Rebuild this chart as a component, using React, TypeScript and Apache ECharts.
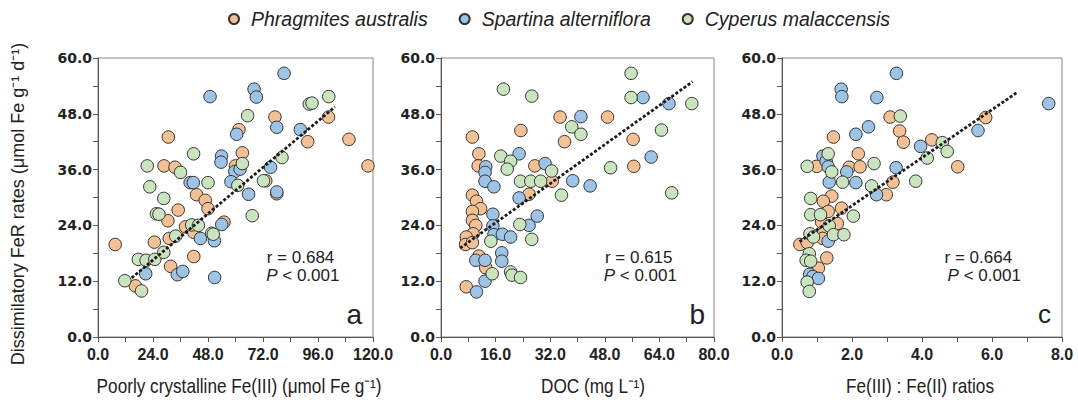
import React, { useEffect, useRef } from "react";
import * as echarts from "echarts";

const speciesNames = ["Phragmites australis", "Spartina alterniflora", "Cyperus malaccensis"];
const speciesColors = ["#F5C093", "#9DC3E6", "#C9E4BE"];
const panelLetters = ["a", "b", "c"];
const rValues = ["r = 0.684", "r = 0.615", "r = 0.664"];
const xTitles = ["Poorly crystalline Fe(III) (μmol Fe g⁻¹)", "DOC (mg L⁻¹)", "Fe(III) : Fe(II) ratios"];
const yTitle = "Dissimilatory FeR rates (μmol Fe g⁻¹ d⁻¹)";
const xMax = [120, 80, 8];
const xInterval = [24, 16, 2];

// Panel a: Poorly crystalline Fe(III)
const phragA = [[7.5,19.9],[30.7,43.0],[28.8,36.8],[33.6,36.5],[35.0,27.3],[30.5,25.0],[24.6,20.4],[31.1,21.2],[31.7,15.2],[16.3,11.0],[43.0,30.6],[46.8,29.4],[48.0,27.6],[38.2,23.7],[41.8,22.5],[41.8,17.3],[55.0,24.7],[60.0,36.8],[61.5,44.6],[63.0,39.6],[73.2,33.6],[77.2,47.3],[78.0,30.8],[91.5,42.0],[100.6,47.3],[109.5,42.5],[117.8,36.8]];
const spartA = [[48.9,51.7],[68.1,53.3],[69.1,51.6],[81.2,56.7],[60.5,43.6],[78.0,45.1],[88.3,44.6],[53.9,38.9],[53.7,37.6],[40.2,33.2],[41.6,33.2],[59.7,35.6],[62.0,36.1],[58.0,33.4],[75.3,36.5],[65.7,30.7],[78.0,31.2],[54.0,24.2],[44.7,21.2],[50.8,20.7],[50.9,12.8],[20.8,13.6],[34.6,13.4],[37.0,14.1]];
const cypA = [[11.7,12.1],[19.0,9.9],[17.6,16.7],[21.0,16.5],[24.8,16.7],[28.7,18.2],[21.5,36.8],[22.6,32.3],[28.7,29.8],[25.5,26.5],[26.6,26.4],[33.9,21.7],[36.0,35.4],[41.7,39.4],[40.9,24.1],[43.8,24.0],[48.0,33.2],[49.6,22.3],[50.3,22.1],[61.0,32.6],[63.0,37.3],[65.3,47.6],[67.3,26.1],[72.2,33.6],[80.3,38.6],[92.2,50.1],[93.4,50.3],[100.7,51.7]];
const fitA = [[14.7,12.7],[103.4,49.5]];

// Panel b: DOC
const phragB = [[9.2,43.0],[11.1,39.4],[10.9,36.8],[9.2,30.5],[10.4,29.2],[11.6,27.6],[9.2,27.0],[9.2,25.1],[10.2,24.0],[9.4,22.2],[7.4,21.5],[7.2,19.9],[9.2,20.3],[11.1,17.4],[13.1,14.9],[7.4,10.8],[23.4,44.4],[27.5,36.8],[25.8,30.7],[32.6,33.5],[34.9,47.3],[36.2,42.0],[48.8,47.3],[56.3,42.5],[56.5,36.7]];
const spartB = [[13.1,36.6],[12.9,35.4],[12.9,33.5],[15.5,32.3],[22.9,39.4],[30.5,37.3],[38.6,33.6],[22.9,29.9],[28.2,26.0],[25.8,24.0],[15.2,26.4],[15.2,23.9],[15.5,22.0],[18.0,22.1],[20.4,21.5],[17.8,18.1],[17.8,16.3],[10.2,16.5],[12.9,16.5],[12.9,12.0],[10.4,9.7],[41.0,47.4],[59.2,51.5],[66.8,50.2],[61.6,38.7],[43.7,32.5]];
const cypB = [[18.3,53.3],[26.6,51.8],[17.5,38.9],[20.4,37.8],[19.4,36.1],[23.3,33.5],[26.3,33.5],[29.2,33.5],[32.4,35.7],[35.3,30.5],[38.3,45.2],[41.0,43.6],[23.1,24.2],[26.6,21.0],[14.6,20.6],[15.0,13.6],[20.4,14.0],[20.8,13.3],[23.3,12.8],[55.7,56.7],[55.7,51.5],[73.5,50.2],[64.6,44.5],[49.7,36.4],[67.6,31.0]];
const fitB = [[5.6,19.1],[73.7,54.9]];

// Panel c: Fe(III):Fe(II) ratios
const phragC = [[1.47,43.0],[3.09,47.3],[3.36,44.3],[3.47,41.9],[2.18,39.4],[1.92,36.5],[2.23,36.6],[0.99,36.7],[1.42,30.3],[1.18,29.2],[1.32,27.0],[1.70,27.7],[1.13,24.7],[1.58,24.4],[1.18,22.2],[1.16,21.2],[0.51,19.9],[0.72,20.3],[1.28,17.0],[1.04,14.8],[3.17,33.3],[2.98,30.6],[5.82,47.2],[4.28,42.4],[5.02,36.6]];
const spartC = [[3.27,56.7],[1.69,53.3],[1.71,51.7],[2.71,51.5],[2.47,45.2],[2.11,43.6],[1.17,38.9],[1.26,37.8],[1.32,36.6],[1.85,35.5],[1.35,33.3],[2.11,33.2],[3.26,36.4],[2.70,30.6],[3.96,41.0],[1.32,20.6],[0.79,13.5],[0.88,13.0],[1.04,12.6],[5.60,44.4],[7.62,50.2]];
const cypC = [[3.38,47.5],[1.32,39.4],[0.72,36.7],[1.42,35.5],[1.73,33.3],[2.63,37.3],[2.56,32.5],[3.82,33.5],[0.82,29.8],[0.82,26.3],[1.10,26.3],[2.04,26.0],[1.35,23.9],[1.47,22.0],[1.77,22.0],[0.80,22.2],[0.90,21.5],[0.78,17.9],[0.69,16.5],[0.82,16.3],[0.72,11.8],[0.78,9.8],[4.58,41.8],[4.72,39.9],[4.15,38.5]];
const fitC = [[0.5,20.5],[6.7,52.5]];

const panels = [
  { sp: [phragA, spartA, cypA], fit: fitA },
  { sp: [phragB, spartB, cypB], fit: fitB },
  { sp: [phragC, spartC, cypC], fit: fitC },
];

const gridBoxes = [
  { left: 98, top: 58, width: 275, height: 279 },
  { left: 441, top: 58, width: 273, height: 279 },
  { left: 782, top: 58, width: 280, height: 279 },
];
const statPos = [
  { rx: 300.5, px: 302.8 },
  { rx: 638.7, px: 640.3 },
  { rx: 978.3, px: 984.2 },
];
const letterPos = [362, 705, 1051];
const xTitlePos = [239, 593, 920];

const axisColor = "#555";
const sans = '"Liberation Sans", Arial, sans-serif';

export default function App() {
  const ref = useRef<HTMLDivElement>(null);
  useEffect(() => {
    if (!ref.current) return;
    const chart = echarts.init(ref.current, undefined, { renderer: "svg" });

    const grid = gridBoxes.map((g) => ({ ...g, show: true, borderColor: "#888", borderWidth: 1, backgroundColor: "transparent" }));
    const xAxis = gridBoxes.map((_, i) => ({
      type: "value",
      gridIndex: i,
      min: 0,
      max: xMax[i],
      interval: xInterval[i],
      axisLine: { show: true, onZero: false, lineStyle: { color: axisColor, width: 1 } },
      axisTick: { show: true, length: 5, lineStyle: { color: axisColor } },
      minorTick: { show: true, splitNumber: 2, length: 5, lineStyle: { color: axisColor } },
      splitLine: { show: false },
      minorSplitLine: { show: false },
      axisLabel: {
        formatter: (v: number) => v.toFixed(1),
        fontFamily: sans,
        fontWeight: "bold",
        fontSize: 16,
        color: "#222",
        margin: 9,
        showMinLabel: true,
        showMaxLabel: true,
      },
    }));
    const yAxis = gridBoxes.map((_, i) => ({
      type: "value",
      gridIndex: i,
      min: 0,
      max: 60,
      interval: 12,
      axisLine: { show: true, onZero: false, lineStyle: { color: axisColor, width: 1 } },
      axisTick: { show: true, length: 5, lineStyle: { color: axisColor } },
      minorTick: { show: true, splitNumber: 2, length: 5, lineStyle: { color: axisColor } },
      splitLine: { show: false },
      minorSplitLine: { show: false },
      axisLabel: {
        formatter: (v: number) => v.toFixed(1),
        fontFamily: '"DejaVu Sans", sans-serif',
        fontWeight: "bold",
        fontSize: 14,
        color: "#222",
        margin: 6,
      },
    }));

    const series: any[] = [];
    panels.forEach((p, i) => {
      p.sp.forEach((data, s) => {
        series.push({
          type: "scatter",
          name: speciesNames[s],
          xAxisIndex: i,
          yAxisIndex: i,
          data,
          symbol: "circle",
          symbolSize: 12.5,
          itemStyle: { color: speciesColors[s], borderColor: "#333", borderWidth: 1, opacity: 1 },
          z: 2,
        });
      });
      series.push({
        type: "line",
        name: "fit" + i,
        xAxisIndex: i,
        yAxisIndex: i,
        data: p.fit,
        symbol: "none",
        silent: true,
        lineStyle: { color: "#1a1a1a", width: 2.8, type: [3, 2] },
        z: 5,
      });
    });

    const graphic: any[] = [];
    panels.forEach((_, i) => {
      graphic.push({
        type: "text",
        x: statPos[i].rx,
        y: 257,
        style: { text: rValues[i], font: `17px ${sans}`, fill: "#222", textAlign: "center", textVerticalAlign: "middle" },
        z: 10,
      });
      graphic.push({
        type: "text",
        x: statPos[i].px,
        y: 275,
        style: {
          text: "{i|P} < 0.001",
          font: `17px ${sans}`,
          fill: "#222",
          textAlign: "center",
          textVerticalAlign: "middle",
          rich: { i: { fontStyle: "italic", fontSize: 17, fontFamily: sans, fill: "#222" } },
        },
        z: 10,
      });
      graphic.push({
        type: "text",
        x: letterPos[i],
        y: 314,
        style: { text: panelLetters[i], font: `${i === 2 ? 26 : 28}px ${sans}`, fill: "#222", textAlign: "right", textVerticalAlign: "middle" },
        z: 10,
      });
      graphic.push({
        type: "text",
        x: xTitlePos[i],
        y: 386,
        scaleX: 0.86,
        style: { text: xTitles[i], font: `20px ${sans}`, fill: "#222", textAlign: "center", textVerticalAlign: "middle" },
      });
    });
    graphic.push({
      type: "text",
      x: 18,
      y: 204,
      rotation: Math.PI / 2,
      style: { text: yTitle, font: `18px ${sans}`, fill: "#222", textAlign: "center", textVerticalAlign: "middle" },
    });

    chart.setOption({
      animation: false,
      backgroundColor: "#fff",
      legend: {
        data: speciesNames,
        left: 228,
        top: 9,
        padding: 0,
        itemWidth: 10,
        itemHeight: 10,
        itemGap: 31,
        icon: "circle",
        textStyle: { fontFamily: sans, fontStyle: "italic", fontSize: 19.5, color: "#222", padding: [0, 0, 0, 7] },
      },
      grid,
      xAxis,
      yAxis,
      series,
      graphic,
    });
    return () => chart.dispose();
  }, []);
  return <div ref={ref} style={{ position: "fixed", left: 0, top: 0, width: 1078, height: 408, background: "#fff" }} />;
}
